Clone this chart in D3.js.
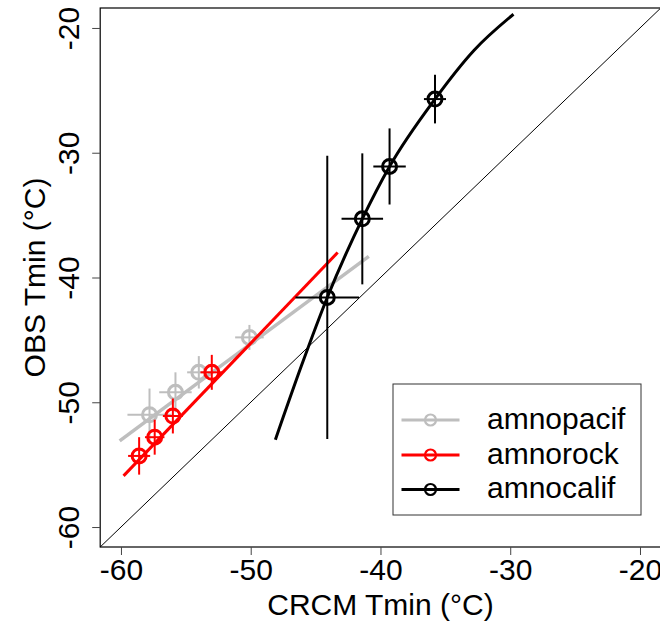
<!DOCTYPE html>
<html>
<head>
<meta charset="utf-8">
<script src="https://cdn.jsdelivr.net/npm/d3@7"></script>
<style>
  html, body { margin: 0; padding: 0; background: #fff; }
  svg { display: block; font-family: "Liberation Sans", Arial, Helvetica, sans-serif; }
</style>
</head>
<body>
<svg id="chart" width="660" height="625"></svg>
<script>
// ---- Data ----
const seriesNames = ["amnopacif", "amnorock", "amnocalif"];
const seriesColors = ["#bebebe", "#ff0000", "#000000"];

const pacifX = [-57.8, -55.8, -54.0, -50.1];
const pacifY = [-51.0, -49.2, -47.6, -44.8];
const pacifXerr = [1.7, 1.25, 0.9, 1.1];
const pacifYerr = [2.1, 1.6, 1.3, 1.0];

const rockX = [-58.6, -57.4, -56.0, -53.0];
const rockY = [-54.3, -52.8, -51.1, -47.6];
const rockXerr = [0.85, 0.75, 0.77, 0.87];
const rockYerr = [1.5, 1.4, 1.4, 1.4];

const califX = [-44.1, -41.4, -39.3, -35.8];
const califY = [-41.6, -35.3, -31.1, -25.7];
const califXerr = [2.45, 1.6, 1.25, 0.85];
const califYerr = [11.35, 5.25, 3.05, 1.95];

// fitted lines
const pacifFitX = [-60.1, -40.9];
const pacifFitY = [-53.1, -38.3];
const rockFitX = [-59.8, -43.3];
const rockFitY = [-55.9, -38.0];
const califFitX = [-48.1, -46.1, -44.1, -41.4, -39.3, -35.8, -32.8, -29.75];
const califFitY = [-53.0, -47.1, -41.6, -35.3, -31.1, -25.7, -21.8, -18.9];

const xTicks = [-60, -50, -40, -30, -20];
const yTicks = [-60, -50, -40, -30, -20];
const xTitle = "CRCM Tmin (°C)";
const yTitle = "OBS Tmin (°C)";
const domainLim = [-61.6, -18.4];

// ---- Layout ----
const svg = d3.select("#chart");
const L = 100.2, R = 660.75, T = 8, B = 547;
const FS = 30;

const x = d3.scaleLinear().domain(domainLim).range([L, R]);
const y = d3.scaleLinear().domain(domainLim).range([B, T]);
const fmt = d => String(d);

svg.append("rect").attr("width", 660).attr("height", 625).attr("fill", "#fff");

// 1:1 diagonal
svg.append("line")
  .attr("x1", x(domainLim[0])).attr("y1", y(domainLim[0]))
  .attr("x2", x(domainLim[1])).attr("y2", y(domainLim[1]))
  .attr("stroke", "#000").attr("stroke-width", 1);

const series = [
  {name: seriesNames[0], color: seriesColors[0], X: pacifX, Y: pacifY, xe: pacifXerr, ye: pacifYerr, fx: pacifFitX, fy: pacifFitY, lw: 3.5},
  {name: seriesNames[1], color: seriesColors[1], X: rockX, Y: rockY, xe: rockXerr, ye: rockYerr, fx: rockFitX, fy: rockFitY, lw: 3},
  {name: seriesNames[2], color: seriesColors[2], X: califX, Y: califY, xe: califXerr, ye: califYerr, fx: califFitX, fy: califFitY, lw: 3}
];

const lineGen = d3.line().x(d => x(d[0])).y(d => y(d[1])).curve(d3.curveMonotoneX);

series.forEach(s => {
  const g = svg.append("g");
  g.append("path")
    .datum(s.fx.map((v, i) => [v, s.fy[i]]))
    .attr("d", lineGen)
    .attr("fill", "none").attr("stroke", s.color).attr("stroke-width", s.lw)
    .attr("stroke-linecap", "butt");
  const pts = s.X.map((v, i) => ({x: v, y: s.Y[i], xe: s.xe[i], ye: s.ye[i]}));
  g.selectAll(".ev").data(pts).enter().append("line")
    .attr("x1", d => x(d.x)).attr("x2", d => x(d.x))
    .attr("y1", d => y(d.y - d.ye)).attr("y2", d => y(d.y + d.ye))
    .attr("stroke", s.color).attr("stroke-width", 2);
  g.selectAll(".eh").data(pts).enter().append("line")
    .attr("x1", d => x(d.x - d.xe)).attr("x2", d => x(d.x + d.xe))
    .attr("y1", d => y(d.y)).attr("y2", d => y(d.y))
    .attr("stroke", s.color).attr("stroke-width", 2);
  g.selectAll("circle").data(pts).enter().append("circle")
    .attr("cx", d => x(d.x)).attr("cy", d => y(d.y)).attr("r", 7)
    .attr("fill", "none").attr("stroke", s.color).attr("stroke-width", 3);
});

// Frame
svg.append("rect")
  .attr("x", L).attr("y", T).attr("width", R - L).attr("height", B - T)
  .attr("fill", "none").attr("stroke", "#000").attr("stroke-width", 1.2);

// Axes
const xAxis = svg.append("g").attr("transform", `translate(0,${B})`)
  .call(d3.axisBottom(x).tickValues(xTicks).tickSize(8).tickFormat(fmt));
xAxis.select(".domain").remove();
xAxis.selectAll(".tick line").attr("stroke", "#444");
xAxis.selectAll("text").attr("y", 33).attr("dy", 0)
  .attr("font-size", FS).attr("fill", "#000").attr("font-family", "Liberation Sans, Arial, sans-serif");

const yAxis = svg.append("g").attr("transform", `translate(${L},0)`)
  .call(d3.axisLeft(y).tickValues(yTicks).tickSize(8).tickFormat(fmt));
yAxis.select(".domain").remove();
yAxis.selectAll(".tick line").attr("stroke", "#444");
yAxis.selectAll("text").attr("x", 0).attr("y", 0).attr("dy", 0)
  .attr("text-anchor", "middle")
  .attr("transform", "translate(-21,0) rotate(-90)")
  .attr("font-size", FS).attr("fill", "#000").attr("font-family", "Liberation Sans, Arial, sans-serif");

// Titles
svg.append("text").attr("x", (L + R) / 2).attr("y", 615)
  .attr("text-anchor", "middle").attr("font-size", FS).text(xTitle);
svg.append("text").attr("transform", `translate(45,${(T + B) / 2}) rotate(-90)`)
  .attr("text-anchor", "middle").attr("font-size", FS).text(yTitle);

// Legend
const lg = svg.append("g");
lg.append("rect").attr("x", 393).attr("y", 384).attr("width", 248).attr("height", 131)
  .attr("fill", "#fff").attr("stroke", "#333").attr("stroke-width", 1);
const rowY = [420, 455, 489.5];
series.forEach((s, i) => {
  lg.append("line").attr("x1", 401.5).attr("x2", 459.5).attr("y1", rowY[i]).attr("y2", rowY[i])
    .attr("stroke", s.color).attr("stroke-width", 3);
  lg.append("circle").attr("cx", 430.5).attr("cy", rowY[i]).attr("r", 5.5)
    .attr("fill", "none").attr("stroke", s.color).attr("stroke-width", 2.2);
  lg.append("text").attr("x", 487).attr("y", rowY[i] + 8.5)
    .attr("font-size", FS).attr("fill", "#000").text(s.name);
});
</script>
</body>
</html>
